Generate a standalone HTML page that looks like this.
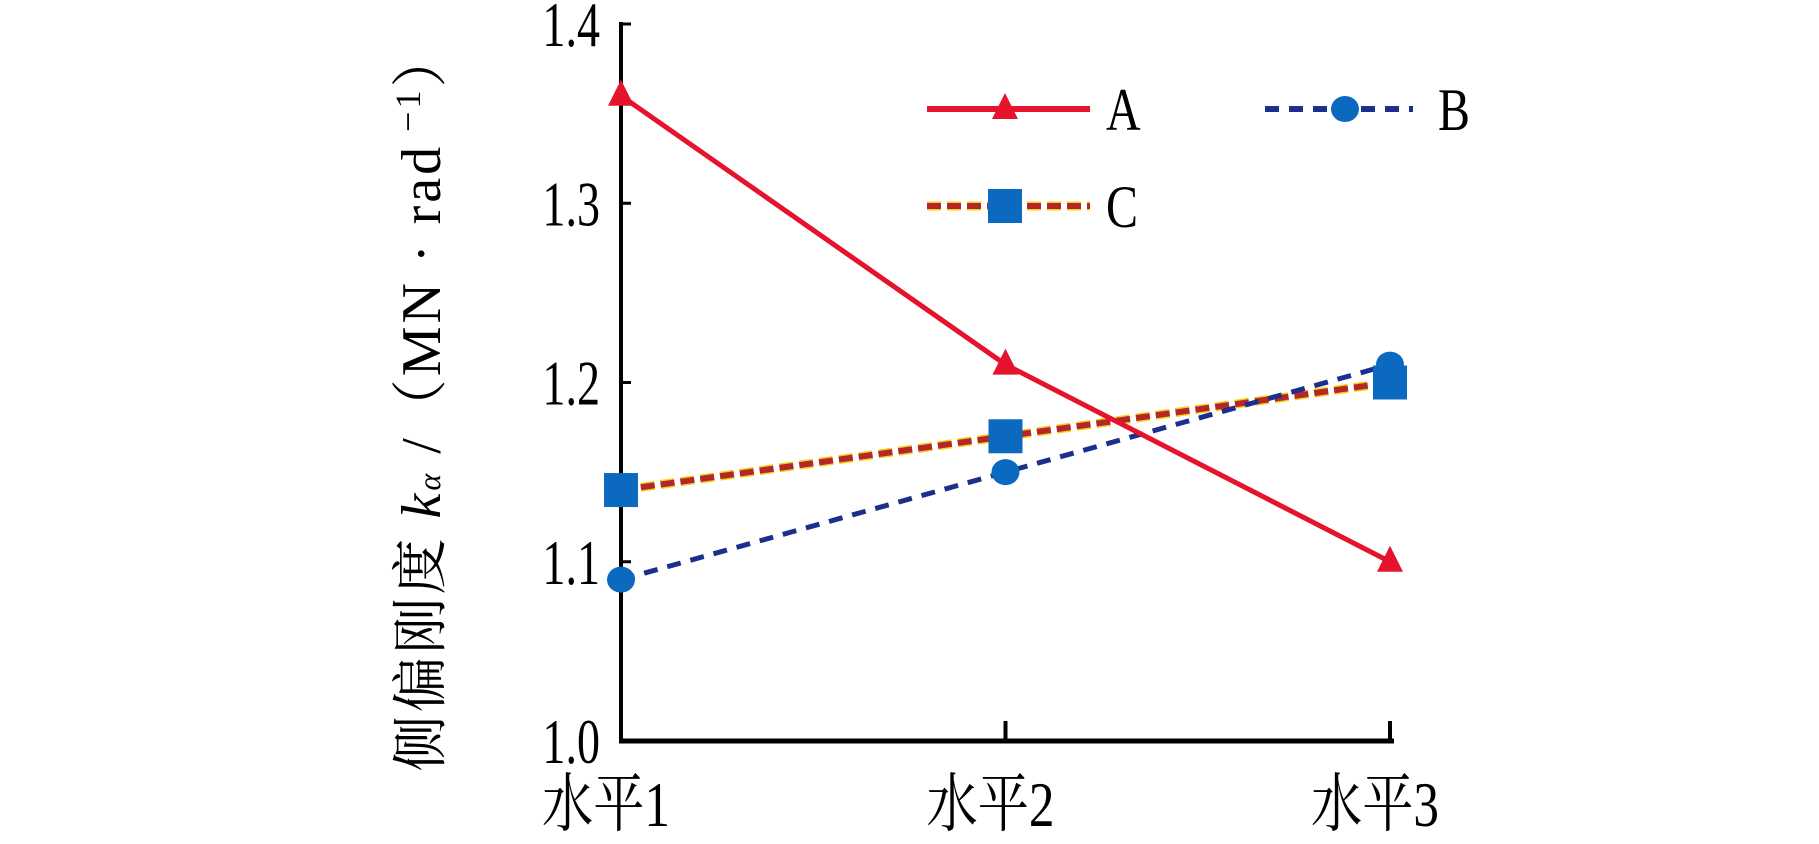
<!DOCTYPE html>
<html><head><meta charset="utf-8"><style>
html,body{margin:0;padding:0;background:#fff;}
svg text{font-family:"Liberation Serif","Noto Serif CJK SC",serif;}
</style></head><body>
<svg width="1819" height="839" viewBox="0 0 1819 839" xmlns="http://www.w3.org/2000/svg">
<g id="plot"></g>
<script>
const categories=["水平1","水平2","水平3"];
const seriesA=[1.36,1.21,1.10];
const seriesB=[1.09,1.15,1.21];
const seriesC=[1.14,1.17,1.20];
const yTicks=[1.0,1.1,1.2,1.3,1.4];
const yTickLabels=["1.0","1.1","1.2","1.3","1.4"];
const NS="http://www.w3.org/2000/svg";
const g=document.getElementById('plot');
const X0=621,X1=1390,Y0=741,Y1=24;
function xs(i){return X0+(X1-X0)*i/(categories.length-1);}
function ys(v){return Y0-(v-1.0)/(0.4)*(Y0-Y1);}
function mk(t,a,p){const e=document.createElementNS(NS,t);for(const k in a)e.setAttribute(k,a[k]);(p||g).appendChild(e);return e;}
let e=mk('line',{x1:X0,y1:Y1-2,x2:X0,y2:Y0+2,stroke:'#000','stroke-width':4});


e=mk('line',{x1:X0-2,y1:Y0,x2:X1+4,y2:Y0,stroke:'#000','stroke-width':5});


yTicks.forEach((v,i)=>{
 const t=mk('line',{x1:X0,y1:ys(v),x2:X0+10,y2:ys(v),stroke:'#000','stroke-width':3});
 
 
 const l=mk('text',{x:0,y:0,'font-size':64,'text-anchor':'end',transform:`translate(600,${ys(v)+22}) scale(0.72,1)`});
 l.textContent=yTickLabels[i];
 
 
});
categories.forEach((c,i)=>{
 if(i>0){const t=mk('line',{x1:xs(i),y1:Y0,x2:xs(i),y2:Y0-20,stroke:'#000','stroke-width':4});
 
 }
 const l=mk('text',{x:0,y:0,'font-size':64,'text-anchor':'middle',transform:`translate(${xs(i)-15},${826}) scale(0.8,1)`});
 l.textContent=c;
 
 
});
function pts(s){return s.map((v,i)=>xs(i)+','+ys(v)).join(' ');}
e=mk('polyline',{points:pts(seriesC),fill:'none',stroke:'#f2d21a','stroke-width':9,'stroke-dasharray':'14 6'});


e=mk('polyline',{points:pts(seriesC),fill:'none',stroke:'#b5262a','stroke-width':6,'stroke-dasharray':'14 6'});


e=mk('polyline',{points:pts(seriesB),fill:'none',stroke:'#1c2f8c','stroke-width':5,'stroke-dasharray':'14 10'});


e=mk('polyline',{points:pts(seriesA),fill:'none',stroke:'#e5132c','stroke-width':5});


function tri(x,y){return mk('polygon',{points:`${x},${y-16} ${x-13},${y+10} ${x+13},${y+10}`,fill:'#e5132c'});}
function circ(x,y){return mk('ellipse',{cx:x,cy:y,rx:14,ry:13,fill:'#0b6abf'});}
function sq(x,y){return mk('rect',{x:x-17,y:y-17,width:34,height:34,fill:'#0b6abf'});}
seriesC.forEach((v,i)=>{const m=sq(xs(i),ys(v));});
seriesB.forEach((v,i)=>{const m=circ(xs(i),ys(v));});
seriesA.forEach((v,i)=>{const m=tri(xs(i),ys(v));});
const lg=mk('g',{});


mk('line',{x1:927,y1:109,x2:1090,y2:109,stroke:'#e5132c','stroke-width':6},lg);
tri(1005,109);
let t=mk('text',{x:0,y:0,'font-size':60,transform:'translate(1106,130) scale(0.8,1)'},lg);t.textContent='A';


mk('line',{x1:1265,y1:109,x2:1413,y2:109,stroke:'#1c2f8c','stroke-width':6,'stroke-dasharray':'14 10'},lg);
circ(1345,109);
t=mk('text',{x:0,y:0,'font-size':60,transform:'translate(1438,130) scale(0.8,1)'},lg);t.textContent='B';


mk('line',{x1:927,y1:206,x2:1090,y2:206,stroke:'#f2d21a','stroke-width':9,'stroke-dasharray':'14 6'},lg);
mk('line',{x1:927,y1:206,x2:1090,y2:206,stroke:'#b5262a','stroke-width':6,'stroke-dasharray':'14 6'},lg);
sq(1005,206);
t=mk('text',{x:0,y:0,'font-size':60,transform:'translate(1106,227) scale(0.8,1)'},lg);t.textContent='C';


</script>
<text transform="translate(440,400) rotate(-90)" text-anchor="middle" font-size="56" letter-spacing="3">侧偏刚度 <tspan font-style="italic">k</tspan><tspan font-style="italic" font-size="32">α</tspan> /（MN · rad<tspan font-size="36" dy="-20"> −1</tspan><tspan dy="20">）</tspan></text>
</svg>
</body></html>
